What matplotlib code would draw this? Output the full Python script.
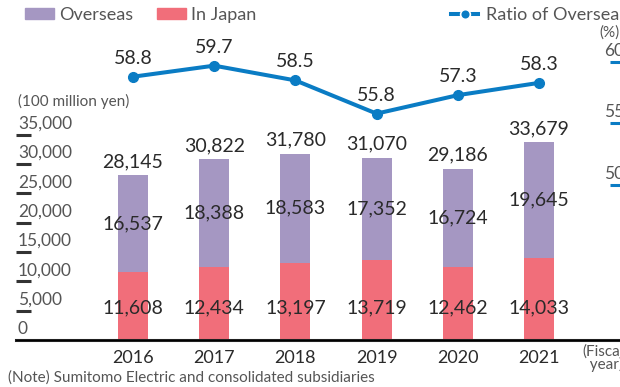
import numpy as np
import matplotlib.pyplot as plt
import matplotlib.transforms as mtransforms
from matplotlib.lines import Line2D
from matplotlib.patches import Patch

plt.rcParams['font.family'] = ['Lato', 'DejaVu Sans']

years = ['2016', '2017', '2018', '2019', '2020', '2021']
japan = [11608, 12434, 13197, 13719, 12462, 14033]
overseas = [16537, 18388, 18583, 17352, 16724, 19645]
totals = [28145, 30822, 31780, 31070, 29186, 33679]
ratio = [58.8, 59.7, 58.5, 55.8, 57.3, 58.3]

left_ticks = [0, 5000, 10000, 15000, 20000, 25000, 30000, 35000]
right_ticks = [50, 55, 60]

purple = '#A597C2'
pink = '#F16E7A'
blue = '#0A7CC4'
dark = '#2a2a2a'
grey = '#555555'

W, H = 620, 387
fig = plt.figure(figsize=(W / 100, H / 100), dpi=100)
ax = fig.add_axes([16 / W, 47 / H, (W - 16) / W, 320 / H])
ax2 = ax.twinx()

x = np.arange(len(years))
bw = 0.37
ax.bar(x, japan, bw, color=pink, zorder=2)
ax.bar(x, overseas, bw, bottom=japan, color=purple, zorder=2)

ax.set_xlim(-1.441, 5.998)
ax.set_ylim(0, 54560)
ax2.set_ylim(37.40, 63.41)

# value labels on the bars
vsize = 14
for i in x:
    ax.text(i, totals[i], f'{totals[i]:,}', ha='center', va='bottom',
            fontsize=vsize, color=dark,
            transform=mtransforms.offset_copy(ax.transData, fig, 0, 5, units='dots'))
    ax.text(i, japan[i] + overseas[i] / 2, f'{overseas[i]:,}', ha='center',
            va='center', fontsize=vsize, color=dark)
    ax.text(i, 5500, f'{japan[i]:,}', ha='center', va='center',
            fontsize=vsize, color=dark)

# overseas ratio line
ax2.plot(x, ratio, color=blue, lw=2.9, marker='o', ms=7, zorder=3)
for i in x:
    ax2.text(i, ratio[i], f'{ratio[i]}', ha='center', va='bottom', fontsize=vsize,
             color=dark,
             transform=mtransforms.offset_copy(ax2.transData, fig, 0, 10, units='dots'))

for a in (ax, ax2):
    for s in ('top', 'left', 'right'):
        a.spines[s].set_visible(False)
ax.spines['bottom'].set_linewidth(2.2)
ax.spines['bottom'].set_color('#222222')

ax.set_xticks(x)
ax.set_xticklabels(years, fontsize=13, color=dark)
ax.tick_params(axis='x', length=0, pad=7)

# left axis: dash ticks with labels sitting above them
ax.set_yticks(left_ticks[1:])
ax.set_yticklabels([])
ax.tick_params(axis='y', direction='in', length=10.5, width=2.2, color='#333333')
lbl_tr = mtransforms.offset_copy(
    mtransforms.blended_transform_factory(fig.transFigure, ax.transData),
    fig, 0, 3, units='dots')
for v in left_ticks:
    ax.text(18 / W, v, f'{v:,}', ha='left', va='bottom', fontsize=12.5,
            color=grey, transform=lbl_tr)

ax2.set_yticks(right_ticks)
ax2.set_yticklabels([])
ax2.tick_params(axis='y', direction='in', length=7.5, width=2.2, color=blue)
r_tr = mtransforms.offset_copy(
    mtransforms.blended_transform_factory(fig.transFigure, ax2.transData),
    fig, 0, 3, units='dots')
for v in right_ticks:
    ax2.text(604 / W, v, str(v), ha='left', va='bottom', fontsize=12.5,
             color=grey, transform=r_tr)

# unit captions and notes
fig.text(18 / W, 1 - 101 / H, '(100 million yen)', fontsize=11, color=grey,
         va='center')
fig.text(599 / W, 1 - 33 / H, '(%)', fontsize=11, color=grey, va='center')
fig.text(582 / W, 1 - 358 / H, '(Fiscal\n  year)', fontsize=11, color=grey,
         va='center', linespacing=0.9)
fig.text(8 / W, 1 - 378 / H, '(Note) Sumitomo Electric and consolidated subsidiaries',
         fontsize=11, color=grey, va='center')

# legends
bar_handles = [Patch(color=purple), Patch(color=pink)]
fig.legend(bar_handles, ['Overseas', 'In Japan'], loc='center left',
           bbox_to_anchor=(9 / W, 1 - 15 / H), ncol=2, frameon=False,
           fontsize=13, handlelength=1.6, handleheight=0.6, handletextpad=0.3,
           columnspacing=1.3, labelcolor=grey)
line_handle = [Line2D([0], [0], color=blue, lw=2.9, marker='o', ms=7,
                      markeredgecolor='white', markeredgewidth=1.2)]
fig.legend(line_handle, ['Ratio of Overseas'], loc='center left',
           bbox_to_anchor=(435 / W, 1 - 15 / H), frameon=False, fontsize=13,
           handlelength=1.5, handletextpad=0.45, labelcolor=grey)

fig.savefig('out.png', dpi=100)
